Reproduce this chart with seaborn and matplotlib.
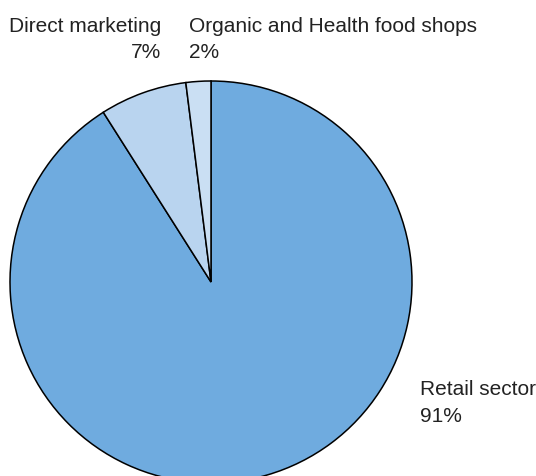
import matplotlib
matplotlib.use("Agg")
import matplotlib.pyplot as plt
import seaborn as sns

categories = ["Retail sector", "Direct marketing", "Organic and Health food shops"]
shares = [91, 7, 2]
colors = ["#6fabdf", "#b9d4ef", "#cadff3"]

sns.set_theme(style="white")
plt.rcParams["font.family"] = ["Liberation Sans", "DejaVu Sans"]

W, H = 536, 477
fig = plt.figure(figsize=(W / 100, H / 100), dpi=100)
ax = fig.add_axes([0, 0, 1, 1])

ax.pie(shares, colors=colors, startangle=90, counterclock=False,
       center=(211, H - 283), radius=201,
       wedgeprops=dict(edgecolor="black", linewidth=1.1))
ax.set_xlim(0, W)
ax.set_ylim(0, H)
ax.set_aspect("equal")
ax.axis("off")

fs = 15
tc = "#222222"
# Direct marketing (right aligned, left of the wedges)
ax.text(161, H - 32, categories[1], ha="right", va="baseline", fontsize=fs, color=tc)
ax.text(161, H - 58, f"{shares[1]}%", ha="right", va="baseline", fontsize=fs, color=tc)
# Organic and Health food shops
ax.text(189, H - 32, categories[2], ha="left", va="baseline", fontsize=fs, color=tc)
ax.text(189, H - 58, f"{shares[2]}%", ha="left", va="baseline", fontsize=fs, color=tc)
# Retail sector
ax.text(420, H - 395, categories[0], ha="left", va="baseline", fontsize=fs, color=tc)
ax.text(420, H - 422, f"{shares[0]}%", ha="left", va="baseline", fontsize=fs, color=tc)

fig.savefig("out.png", dpi=100)
